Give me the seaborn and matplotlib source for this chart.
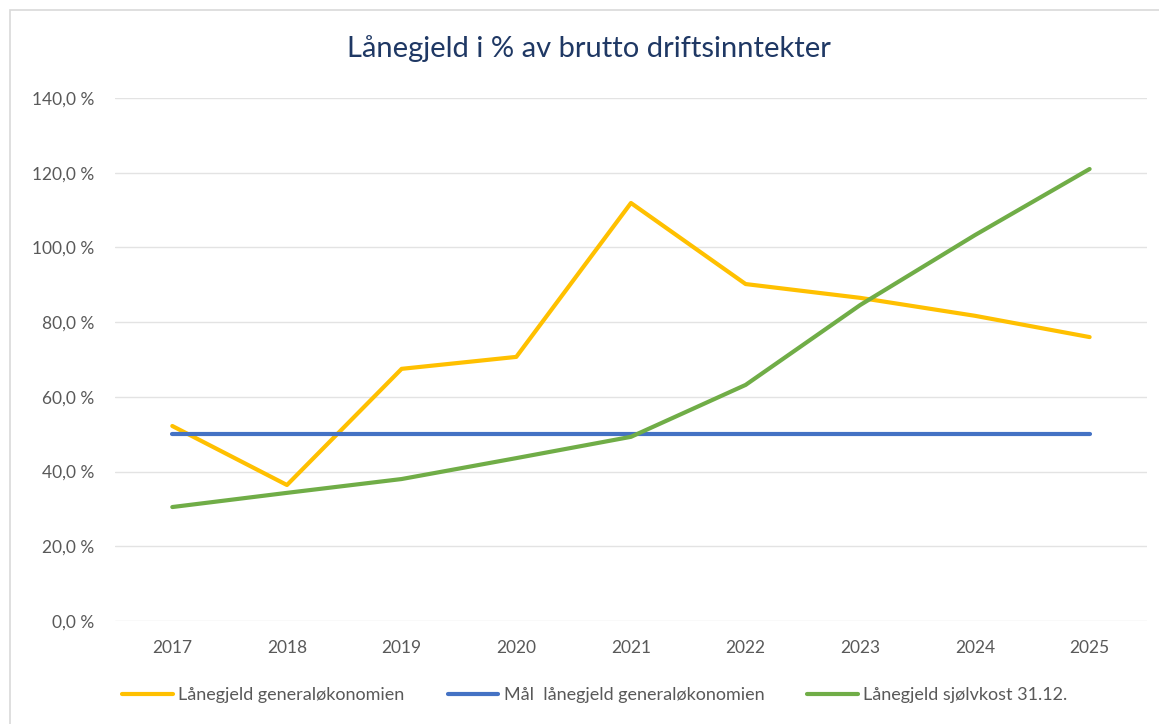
import numpy as np
import pandas as pd
import matplotlib
matplotlib.use("Agg")
import matplotlib.pyplot as plt
import seaborn as sns
from matplotlib.patches import Rectangle
from matplotlib.ticker import FuncFormatter

# ── Data ──────────────────────────────────────────────────────────────────────
years = ["2017", "2018", "2019", "2020", "2021", "2022", "2023", "2024", "2025"]
laanegjeld_generell = [52.2, 36.4, 67.5, 70.7, 111.9, 90.2, 86.5, 81.7, 76.0]
maal_laanegjeld = [50.0, 50.0, 50.0, 50.0, 50.0, 50.0, 50.0, 50.0, 50.0]
laanegjeld_selvkost = [30.5, 34.3, 38.0, 43.6, 49.3, 63.2, 84.6, 103.3, 121.0]

series_names = ["Lånegjeld generaløkonomien",
                "Mål  lånegjeld generaløkonomien",
                "Lånegjeld sjølvkost 31.12."]
colors = ["#FFC000", "#4472C4", "#70AD47"]

df = pd.DataFrame({
    "År": years * 3,
    "Verdi": laanegjeld_generell + maal_laanegjeld + laanegjeld_selvkost,
    "Serie": [series_names[0]] * 9 + [series_names[1]] * 9 + [series_names[2]] * 9,
})

# ── Plot ──────────────────────────────────────────────────────────────────────
sns.set_style("white")
plt.rcParams["font.family"] = ["Lato", "DejaVu Sans"]

fig = plt.figure(figsize=(11.59, 7.24), dpi=100)
ax = fig.add_axes([0.0992, 0.1423, 0.8904, 0.7223])

# chart border
fig.patches.append(Rectangle((10 / 1159, -0.01), 1.0, 1 - 10 / 724 + 0.01,
                             transform=fig.transFigure, fill=False,
                             edgecolor="#D9D9D9", linewidth=1.2))

sns.lineplot(data=df, x="År", y="Verdi", hue="Serie", palette=colors,
             linewidth=3, ax=ax, sort=False)

ax.set_xlim(-0.5, len(years) - 0.5)
ax.set_ylim(0, 140)
ax.set_yticks(np.arange(0, 141, 20))
ax.yaxis.set_major_formatter(FuncFormatter(lambda v, _: f"{v:.1f} %".replace(".", ",")))
ax.grid(axis="y", color="#E3E3E3", linewidth=1)
ax.grid(axis="x", visible=False)
for s in ax.spines.values():
    s.set_visible(False)
ax.tick_params(axis="both", length=0, labelsize=12.5, labelcolor="#595959")
ax.tick_params(axis="x", pad=14)
ax.tick_params(axis="y", pad=15)
ax.set_xlabel("")
ax.set_ylabel("")

fig.suptitle("Lånegjeld i % av brutto driftsinntekter", x=0.508, y=0.952,
             fontsize=21, color="#1F3864")

ax.legend(loc="upper center", bbox_to_anchor=(0.465, -0.095), ncol=3,
          frameon=False, fontsize=13, labelcolor="#595959",
          handlelength=2.8, handletextpad=0.3, columnspacing=2.4)

fig.savefig("out.png", dpi=100)
